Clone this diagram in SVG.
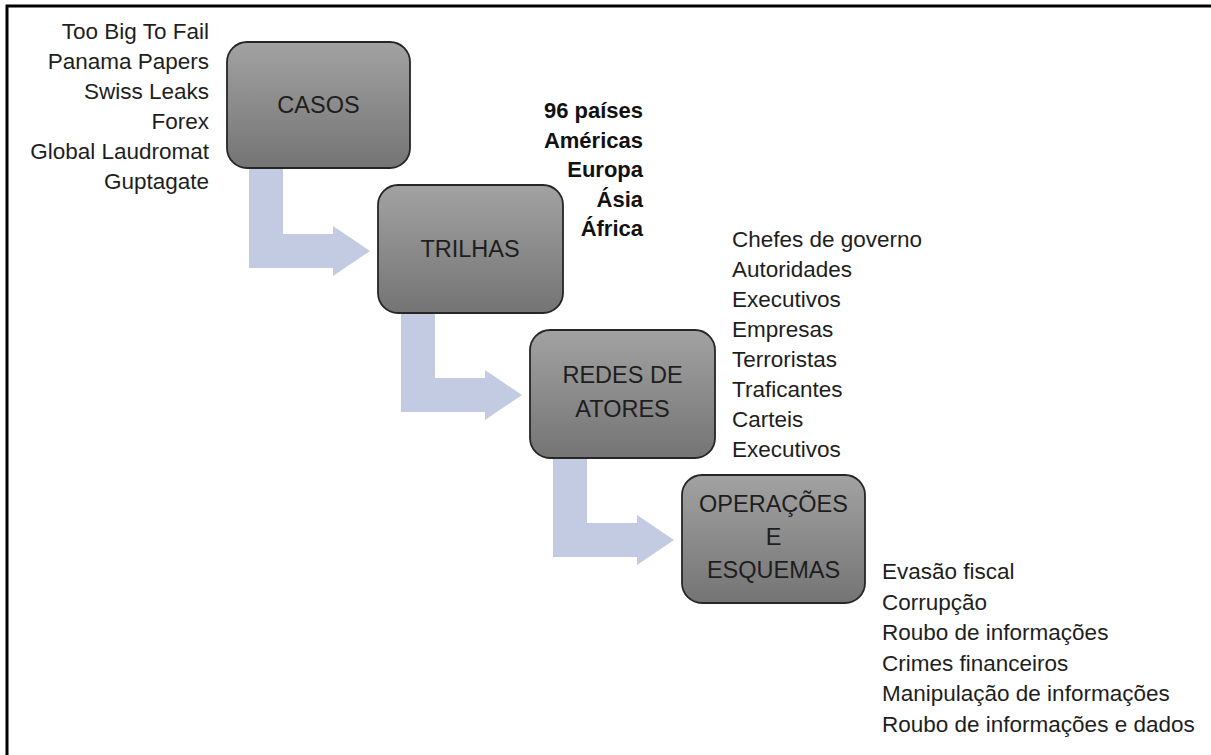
<svg xmlns="http://www.w3.org/2000/svg" width="1211" height="755" viewBox="0 0 1211 755">
<defs>
<linearGradient id="g" x1="0" y1="0" x2="0" y2="1">
<stop offset="0" stop-color="#a2a2a2"/>
<stop offset="1" stop-color="#747474"/>
</linearGradient>
<style>
.box{fill:url(#g);stroke:#262626;stroke-width:1.8}
.bt{font-family:"Liberation Sans",Arial,sans-serif;font-size:23.5px;fill:#1e1e1e;text-anchor:middle}
.lst{font-family:"Liberation Sans",Arial,sans-serif;font-size:22.5px;fill:#1e1e1e}
.bold{font-weight:bold;font-size:22px;fill:#111}
.arr{fill:#c3cbe3}
</style>
</defs>
<rect width="1211" height="755" fill="#ffffff"/>
<path d="M7 755 V6 H1211" fill="none" stroke="#000" stroke-width="3"/>
<g id="connectors">
<polygon class="arr" points="249,169 283,169 283,234 333,234 333,226 370,251 333,276 333,268 249,268"/>
<polygon class="arr" points="401,313 435,313 435,378 485,378 485,370 522,395 485,420 485,412 401,412"/>
<polygon class="arr" points="553,458 587,458 587,523 637,523 637,515 674,540 637,565 637,557 553,557"/>
</g>
<g id="casos">
<rect class="box" x="227" y="42" width="183" height="126" rx="20"/>
<text class="bt" x="318.5" y="113">CASOS</text>
</g>
<g id="trilhas">
<rect class="box" x="378" y="185" width="185" height="128" rx="20"/>
<text class="bt" x="470" y="257">TRILHAS</text>
</g>
<g id="redes">
<rect class="box" x="530" y="330" width="185" height="128" rx="20"/>
<text class="bt" x="622.5" y="383">REDES DE</text>
<text class="bt" x="622.5" y="416.5">ATORES</text>
</g>
<g id="operacoes">
<rect class="box" x="682" y="475" width="183" height="128" rx="20"/>
<text class="bt" x="773.5" y="512">OPERAÇÕES</text>
<text class="bt" x="773.5" y="545">E</text>
<text class="bt" x="773.5" y="578">ESQUEMAS</text>
</g>
<g id="casos-list" class="lst" text-anchor="end">
<text x="209" y="38.5">Too Big To Fail</text>
<text x="209" y="68.5">Panama Papers</text>
<text x="209" y="98.5">Swiss Leaks</text>
<text x="209" y="128.5">Forex</text>
<text x="209" y="158.5">Global Laudromat</text>
<text x="209" y="188.5">Guptagate</text>
</g>
<g id="trilhas-list" class="lst bold" text-anchor="end">
<text x="643" y="118">96 países</text>
<text x="643" y="147.5">Américas</text>
<text x="643" y="177">Europa</text>
<text x="643" y="206.5">Ásia</text>
<text x="643" y="236">África</text>
</g>
<g id="atores-list" class="lst">
<text x="732" y="246.5">Chefes de governo</text>
<text x="732" y="276.5">Autoridades</text>
<text x="732" y="306.5">Executivos</text>
<text x="732" y="336.5">Empresas</text>
<text x="732" y="366.5">Terroristas</text>
<text x="732" y="396.5">Traficantes</text>
<text x="732" y="426.5">Carteis</text>
<text x="732" y="456.5">Executivos</text>
</g>
<g id="operacoes-list" class="lst">
<text x="882" y="579">Evasão fiscal</text>
<text x="882" y="609.5">Corrupção</text>
<text x="882" y="640">Roubo de informações</text>
<text x="882" y="670.5">Crimes financeiros</text>
<text x="882" y="701">Manipulação de informações</text>
<text x="882" y="731.5">Roubo de informações e dados</text>
</g>
</svg>
